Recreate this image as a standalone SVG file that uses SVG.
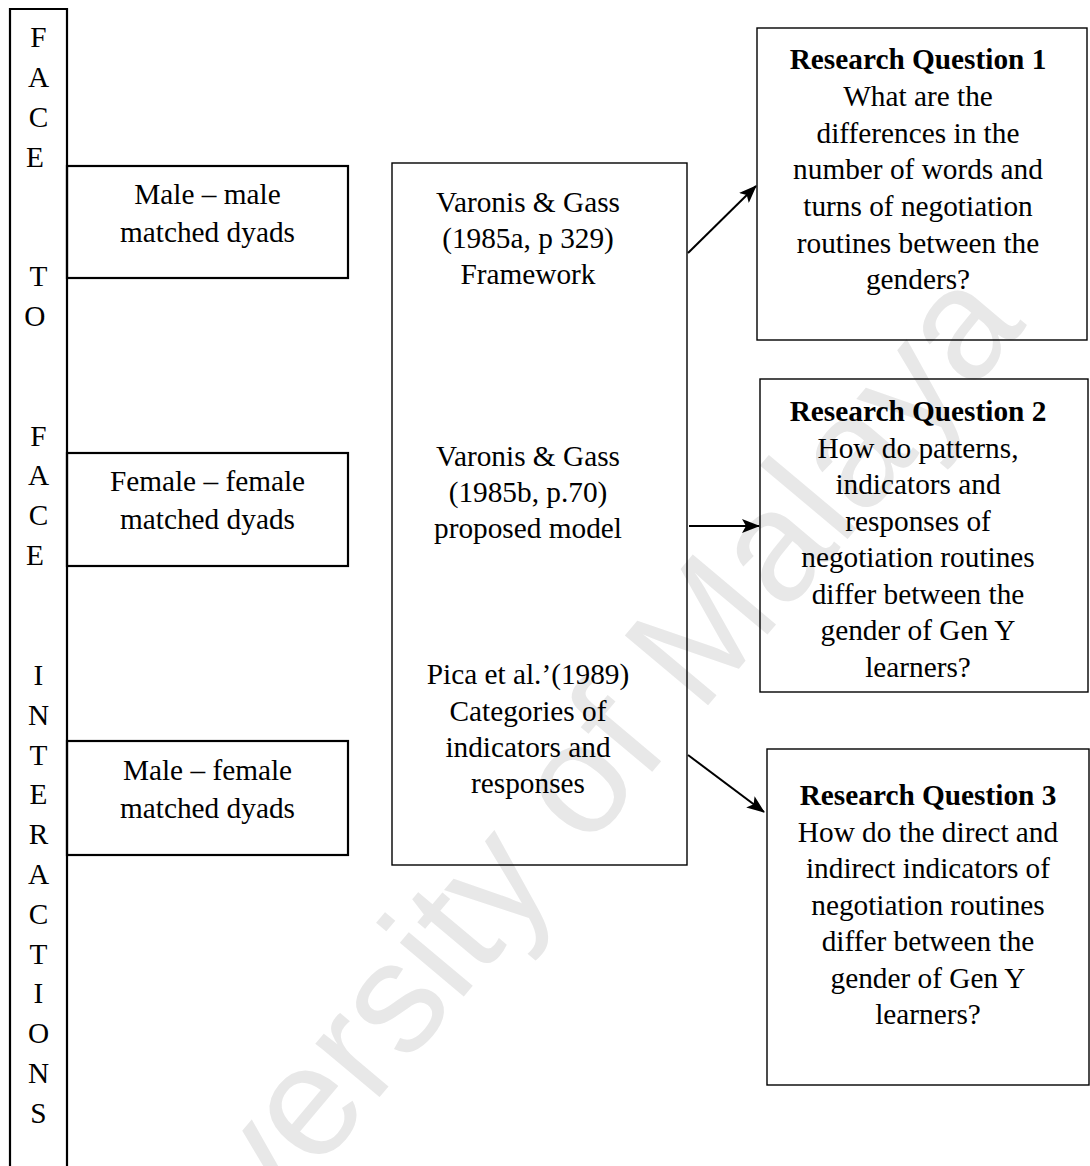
<svg xmlns="http://www.w3.org/2000/svg" width="1090" height="1166" viewBox="0 0 1090 1166">
<defs>
<style>
.t{font-family:"Liberation Serif","Times New Roman",serif;font-size:29.3px;fill:#000;text-anchor:middle}
.b{font-weight:bold}
.col{font-family:"Liberation Serif","Times New Roman",serif;font-size:29.3px;fill:#000;text-anchor:middle}
.thick{fill:none;stroke:#000;stroke-width:2.2}
.thin{fill:none;stroke:#000;stroke-width:1.4}
.conn{stroke:#000;stroke-width:2;fill:none}
.wm{font-family:"Liberation Sans",Arial,sans-serif;font-size:158px;fill:#e8e8e8;text-anchor:middle}
</style>
<marker id="ah" markerUnits="userSpaceOnUse" markerWidth="18" markerHeight="14" refX="17" refY="7" orient="auto">
<path d="M0,0 L18,7 L0,14 L4,7 z" fill="#000"/>
</marker>
</defs>
<rect width="1090" height="1166" fill="#fff"/>
<text class="wm" transform="translate(570,870) rotate(-50)">University of Malaya</text>

<g id="face-to-face">
<path class="thick" d="M10,1170 L10,9 L67,9 L67,1170"/>
<text class="col" x="38.5">
<tspan x="38.5" y="47">F</tspan><tspan x="38.5" y="87">A</tspan><tspan x="38.5" y="126.5">C</tspan><tspan x="38.5" y="166.5">E</tspan>
<tspan x="38.5" y="286">T</tspan><tspan x="38.5" y="326">O</tspan>
<tspan x="38.5" y="445.5">F</tspan><tspan x="38.5" y="485">A</tspan><tspan x="38.5" y="525">C</tspan><tspan x="38.5" y="565">E</tspan>
<tspan x="38.5" y="685">I</tspan><tspan x="38.5" y="725">N</tspan><tspan x="38.5" y="764.5">T</tspan><tspan x="38.5" y="804">E</tspan><tspan x="38.5" y="844">R</tspan><tspan x="38.5" y="884">A</tspan><tspan x="38.5" y="924">C</tspan><tspan x="38.5" y="963.5">T</tspan><tspan x="38.5" y="1003">I</tspan><tspan x="38.5" y="1043">O</tspan><tspan x="38.5" y="1083">N</tspan><tspan x="38.5" y="1123">S</tspan>
</text>
</g>

<g id="male-male">
<rect class="thick" x="67" y="166" width="281" height="112"/>
<text class="t" x="207.5" y="204">Male – male</text>
<text class="t" x="207.5" y="241.5">matched dyads</text>
</g>

<g id="female-female">
<rect class="thick" x="67" y="453" width="281" height="113"/>
<text class="t" x="207.5" y="491">Female – female</text>
<text class="t" x="207.5" y="528.5">matched dyads</text>
</g>

<g id="male-female">
<rect class="thick" x="67" y="741" width="281" height="114"/>
<text class="t" x="207.5" y="780">Male – female</text>
<text class="t" x="207.5" y="818">matched dyads</text>
</g>

<g id="frameworks">
<rect class="thin" x="392" y="163" width="295" height="702"/>
<text class="t" x="528" y="212">Varonis &amp; Gass</text>
<text class="t" x="528" y="248">(1985a, p 329)</text>
<text class="t" x="528" y="284">Framework</text>
<text class="t" x="528" y="466">Varonis &amp; Gass</text>
<text class="t" x="528" y="502">(1985b, p.70)</text>
<text class="t" x="528" y="538">proposed model</text>
<text class="t" x="528" y="684">Pica et al.’(1989)</text>
<text class="t" x="528" y="720.5">Categories of</text>
<text class="t" x="528" y="757">indicators and</text>
<text class="t" x="528" y="793">responses</text>
</g>

<g id="rq1">
<rect class="thin" x="757" y="28" width="330" height="312"/>
<text class="t b" x="918" y="69">Research Question 1</text>
<text class="t" x="918" y="106">What are the</text>
<text class="t" x="918" y="142.5">differences in the</text>
<text class="t" x="918" y="179">number of words and</text>
<text class="t" x="918" y="216">turns of negotiation</text>
<text class="t" x="918" y="252.5">routines between the</text>
<text class="t" x="918" y="289">genders?</text>
</g>

<g id="rq2">
<rect class="thin" x="760" y="379" width="328" height="313"/>
<text class="t b" x="918" y="421">Research Question 2</text>
<text class="t" x="918" y="457.5">How do patterns,</text>
<text class="t" x="918" y="494">indicators and</text>
<text class="t" x="918" y="530.5">responses of</text>
<text class="t" x="918" y="567">negotiation routines</text>
<text class="t" x="918" y="603.5">differ between the</text>
<text class="t" x="918" y="640">gender of Gen Y</text>
<text class="t" x="918" y="676.5">learners?</text>
</g>

<g id="rq3">
<rect class="thin" x="767" y="749" width="322" height="336"/>
<text class="t b" x="928" y="805">Research Question 3</text>
<text class="t" x="928" y="841.5">How do the direct and</text>
<text class="t" x="928" y="878">indirect indicators of</text>
<text class="t" x="928" y="914.5">negotiation routines</text>
<text class="t" x="928" y="951">differ between the</text>
<text class="t" x="928" y="987.5">gender of Gen Y</text>
<text class="t" x="928" y="1024">learners?</text>
</g>

<g id="connectors">
<line class="conn" x1="688" y1="253" x2="756" y2="186" marker-end="url(#ah)"/>
<line class="conn" x1="689" y1="526" x2="759" y2="526" marker-end="url(#ah)"/>
<line class="conn" x1="688" y1="755" x2="764" y2="812" marker-end="url(#ah)"/>
</g>
</svg>
